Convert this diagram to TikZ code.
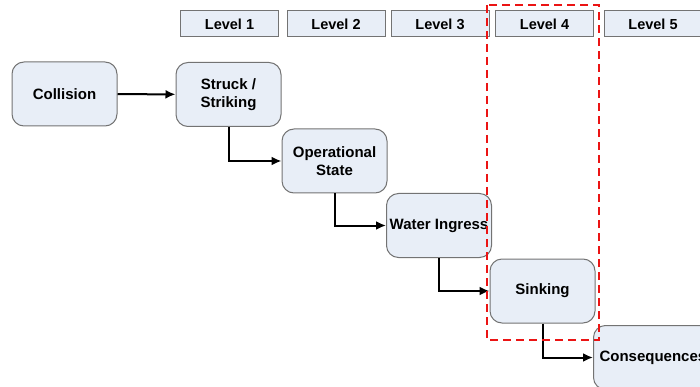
\documentclass[tikz,border=0pt]{standalone}
\usepackage{fontspec}
\setmainfont{Liberation Sans}
\usetikzlibrary{arrows.meta}
\definecolor{boxfill}{RGB}{232,238,247}
\definecolor{boxline}{RGB}{115,115,115}
\definecolor{focusred}{RGB}{235,20,20}
\begin{document}
\begin{tikzpicture}[x=1pt,y=-1pt,
 stage/.style={draw=boxline,fill=boxfill,line width=1pt,rounded corners=12pt,minimum width=105pt,minimum height=64pt,inner sep=0pt,align=center,font=\fontsize{15}{18}\selectfont\bfseries},
 level/.style={draw=boxline,fill=boxfill,line width=1pt,minimum width=98pt,minimum height=26pt,inner sep=0pt,font=\fontsize{14.5}{16}\selectfont\bfseries},
 flow/.style={-{Latex[length=10pt,width=9pt]},line width=2pt}]

\useasboundingbox (0,0) rectangle (700,387);

\foreach \i/\x in {1/229.5,2/336,3/440,4/544.5,5/653}
 \node[level] (level\i) at (\x,24) {Level \i};

\node[stage] (collision) at (64.5,94) {Collision};
\node[stage] (struck) at (228.5,94.5) {Struck /\\Striking};
\node[stage] (operational) at (334.5,161) {Operational\\State};
\node[stage] (ingress) at (439,225.5) {Water Ingress};
\node[stage] (sinking) at (542.5,291) {Sinking};
\node[stage,inner xsep=6pt,anchor=north west] (consequences) at (593,325) {Consequences};

\draw[flow] (collision) -- (struck);
\draw[flow] (struck.south) |- (operational.west);
\draw[flow] (operational.south) |- (ingress.west);
\draw[flow] (ingress.south) |- (sinking.west);
\draw[flow] (sinking.south) |- (consequences.west);

% level 4 highlight
\draw[focusred,line width=2.4pt,dash pattern=on 8pt off 5pt] (487,5) rectangle (599,340);

\end{tikzpicture}
\end{document}
